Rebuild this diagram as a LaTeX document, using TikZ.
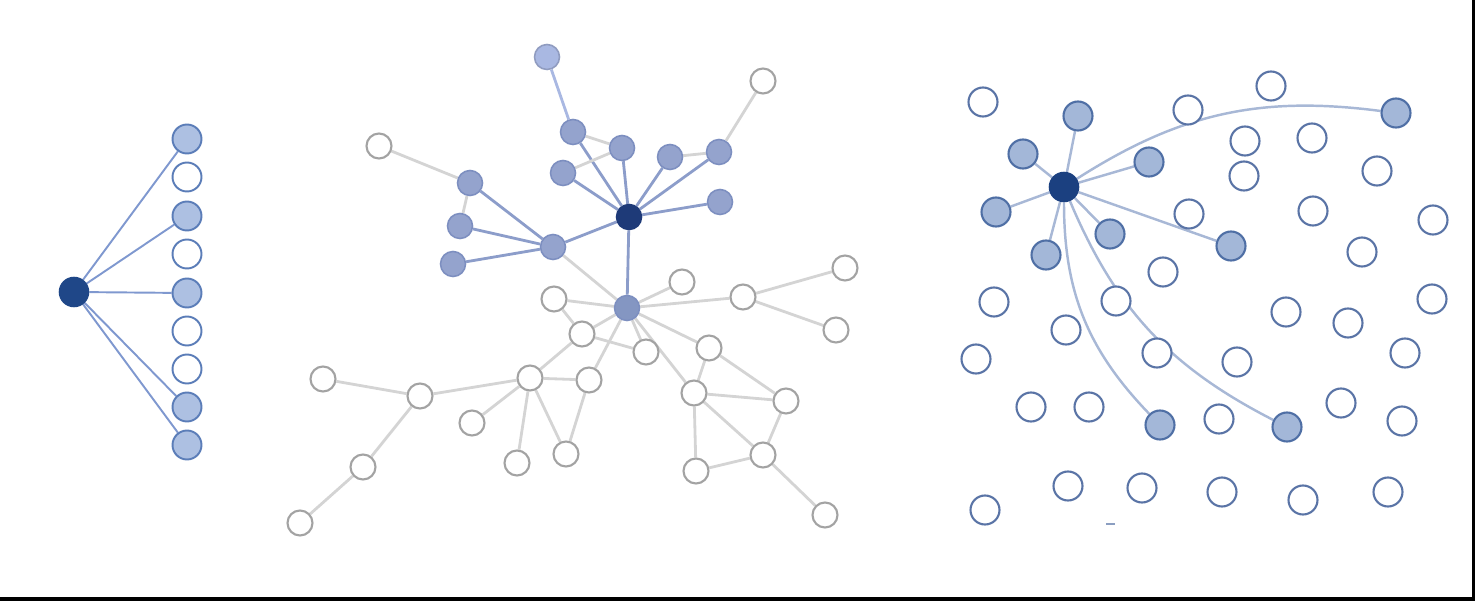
\documentclass[tikz,border=0pt]{standalone}
\usetikzlibrary{backgrounds}
\definecolor{LHub}{HTML}{1F4788}
\definecolor{LFill}{HTML}{ADC0E2}
\definecolor{LBord}{HTML}{5B7DB8}
\definecolor{LEdge}{HTML}{7F98CF}
\definecolor{MHub}{HTML}{1E3A78}
\definecolor{MFill}{HTML}{94A3CD}
\definecolor{MBord}{HTML}{7D8FC0}
\definecolor{MTop}{HTML}{A9B8E2}
\definecolor{MSec}{HTML}{8496C2}
\definecolor{MEdge}{HTML}{8C9DCA}
\definecolor{GEdge}{HTML}{D4D4D4}
\definecolor{GBord}{HTML}{A3A3A3}
\definecolor{RHub}{HTML}{1B4080}
\definecolor{RFill}{HTML}{A3B7D8}
\definecolor{RBord}{HTML}{4F6FA5}
\definecolor{REmpty}{HTML}{5A74A6}
\definecolor{REdge}{HTML}{A8B8D6}
\begin{document}
\begin{tikzpicture}[x=0.02cm,y=-0.02cm,
  base/.style={circle,inner sep=0pt,line width=0.9pt},
  lhub/.style={base,draw=LHub,fill=LHub,minimum size=0.58cm},
  lfill/.style={base,draw=LBord,fill=LFill,minimum size=0.58cm,line width=1.1pt},
  lempty/.style={base,draw=LBord,fill=white,minimum size=0.58cm,line width=1.1pt},
  ledge/.style={draw=LEdge,line width=1.1pt},
  mhub/.style={base,draw=MHub,fill=MHub,minimum size=0.5cm},
  mblue/.style={base,draw=MBord,fill=MFill,minimum size=0.5cm},
  mtop/.style={base,draw=MTop!85!black,fill=MTop,minimum size=0.5cm},
  msec/.style={base,draw=MBord,fill=MSec,minimum size=0.5cm},
  mgray/.style={base,draw=GBord,fill=white,minimum size=0.5cm,line width=1.2pt},
  medge/.style={draw=MEdge,line width=1.6pt},
  gedge/.style={draw=GEdge,line width=1.6pt},
  rhub/.style={base,draw=RHub,fill=RHub,minimum size=0.58cm},
  rfill/.style={base,draw=RBord,fill=RFill,minimum size=0.58cm,line width=1.2pt},
  rempty/.style={base,draw=REmpty,fill=white,minimum size=0.58cm,line width=1.2pt},
  redge/.style={draw=REdge,line width=1.4pt}]
\useasboundingbox (0,0) rectangle (1475,601);
\fill[black] (1472,0) rectangle (1475,601);
\fill[black] (0,597) rectangle (1475,601);

% ---------- left panel ----------
\node[lhub] (lh) at (74,292) {};
\foreach \n/\y/\s in {1/139/lfill,2/177/lempty,3/216/lfill,4/254/lempty,5/293/lfill,6/331/lempty,7/369/lempty,8/407/lfill,9/445/lfill}
  \node[\s] (l\n) at (187,\y) {};

% ---------- middle panel ----------
\node[mhub] (H) at (629,217) {};
\node[msec] (S) at (627,308) {};
\node[mtop] (bt) at (547,57) {};
\node[mblue] (b1) at (573,132) {};
\node[mblue] (b2) at (622,148) {};
\node[mblue] (b3) at (563,173) {};
\node[mblue] (b4) at (670,157) {};
\node[mblue] (b5) at (719,152) {};
\node[mblue] (b6) at (720,202) {};
\node[mblue] (L1) at (470,183) {};
\node[mblue] (L2) at (460,226) {};
\node[mblue] (L3) at (453,264) {};
\node[mblue] (M) at (553,247) {};
\node[mgray] (gul) at (379,146) {};
\node[mgray] (gur) at (763,81) {};
\foreach \n/\x/\y in {1/682/282,2/554/299,3/743/297,4/845/268,5/836/330,6/582/334,7/646/352,8/709/348,
  9/530/378,10/589/380,11/694/393,12/786/401,13/420/396,14/323/379,15/472/423,16/566/454,17/517/463,
  18/763/455,19/696/471,20/363/467,21/300/523,22/825/515}
  \node[mgray] (a\n) at (\x,\y) {};

% ---------- right panel ----------
\node[rhub] (R) at (1064,187) {};
\foreach \n/\x/\y in {1/1078/116,2/1023/154,3/996/212,4/1046/255,5/1110/234,6/1149/162,7/1231/246,8/1396/113,9/1160/425,10/1287/427}
  \node[rfill] (r\n) at (\x,\y) {};
\foreach \n/\x/\y in {1/983/102,2/1188/110,3/1271/86,4/1245/141,5/1312/138,6/1244/176,7/1377/171,8/1189/214,
  9/1313/211,10/1433/220,11/1362/252,12/1163/272,13/994/302,14/1116/301,15/1286/312,16/1348/323,17/1432/299,
  18/1066/330,19/976/359,20/1157/353,21/1237/362,22/1405/353,23/1031/407,24/1089/407,25/1219/419,26/1341/403,
  27/1402/421,28/985/510,29/1068/486,30/1142/488,31/1222/492,32/1303/500,33/1388/492}
  \node[rempty] (e\n) at (\x,\y) {};
\draw[REmpty!70,line width=1pt] (1106,524) -- (1115,524);

% ---------- connectors ----------
\begin{pgfonlayer}{background}
\foreach \n in {1,3,5,8,9} \draw[ledge] (lh) -- (l\n);

\draw[medge,draw=MTop] (bt) -- (b1);
\foreach \n in {b1,b2,b3,b4,b5,b6,M,S} \draw[medge] (H) -- (\n);
\foreach \n in {L1,L2,L3} \draw[medge] (M) -- (\n);
\draw[gedge] (b1) -- (b2);
\draw[gedge] (b3) -- (b2);
\draw[gedge] (b4) -- (b5);
\draw[gedge] (L1) -- (L2);
\draw[gedge] (L1) -- (gul);
\draw[gedge] (b5) -- (gur);
\draw[gedge] (M) -- (S);
\foreach \n in {a1,a2,a3,a6,a7,a8,a10,a11} \draw[gedge] (S) -- (\n);
\draw[gedge] (a3) -- (a4);
\draw[gedge] (a3) -- (a5);
\draw[gedge] (a2) -- (a6);
\draw[gedge] (a6) -- (a7);
\draw[gedge] (a6) -- (a9);
\draw[gedge] (a9) -- (a10);
\draw[gedge] (a9) -- (a13);
\draw[gedge] (a13) -- (a14);
\draw[gedge] (a13) -- (a20);
\draw[gedge] (a20) -- (a21);
\draw[gedge] (a9) -- (a15);
\draw[gedge] (a9) -- (a17);
\draw[gedge] (a9) -- (a16);
\draw[gedge] (a10) -- (a16);
\draw[gedge] (a8) -- (a11);
\draw[gedge] (a8) -- (a12);
\draw[gedge] (a11) -- (a12);
\draw[gedge] (a11) -- (a19);
\draw[gedge] (a11) -- (a18);
\draw[gedge] (a12) -- (a18);
\draw[gedge] (a19) -- (a18);
\draw[gedge] (a18) -- (a22);

\foreach \n in {1,...,7} \draw[redge] (R) -- (r\n);
\draw[redge] (R) to[bend left=20] (r8);
\draw[redge] (R) to[bend right=22] (r9);
\draw[redge] (R) to[bend right=20] (r10);
\end{pgfonlayer}
\end{tikzpicture}
\end{document}
